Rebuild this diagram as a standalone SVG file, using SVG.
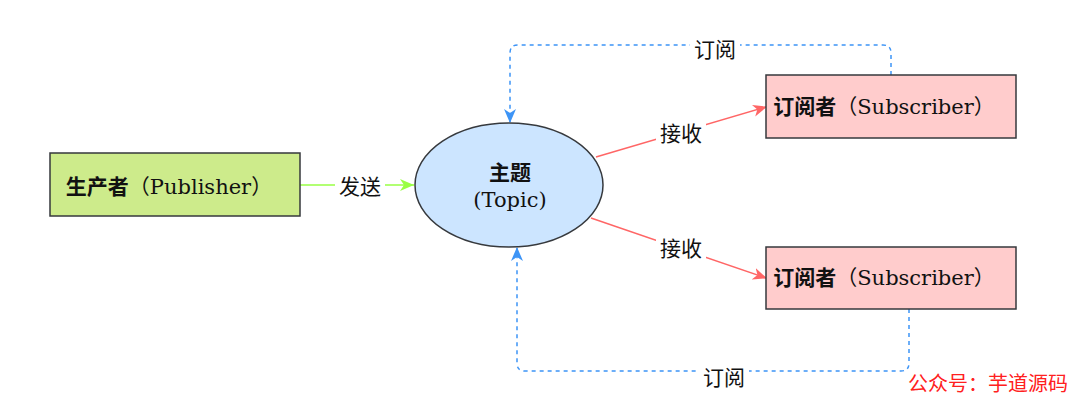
<svg xmlns="http://www.w3.org/2000/svg" width="1080" height="405" viewBox="0 0 1080 405">
<style>
.t{font-family:"DejaVu Serif","Noto Sans CJK SC",serif;font-size:21px;fill:#111;text-anchor:middle}
.b{font-weight:bold}
.box{stroke:#36393d;stroke-width:1.5}
.lbg{fill:#fff}
.dash{fill:none;stroke:#3d94f6;stroke-width:1.5;stroke-dasharray:4 4}
</style>
<defs>
<marker id="ar" viewBox="0 0 14 14" refX="13" refY="7" markerWidth="14" markerHeight="14" markerUnits="userSpaceOnUse" orient="auto"><path d="M0,1 L14,7 L0,13 L4,7 z" fill="#ff6666"/></marker>
<marker id="ab" viewBox="0 0 14 14" refX="13" refY="7" markerWidth="14" markerHeight="14" markerUnits="userSpaceOnUse" orient="auto"><path d="M0,1 L14,7 L0,13 L4,7 z" fill="#3d94f6"/></marker>
</defs>
<rect width="1080" height="405" fill="#fff"/>
<g id="connectors">
<path d="M300,185 H414" stroke="#99ff44" stroke-width="1.5" fill="none"/>
<polygon points="414,185 400,179 404,185 400,191" fill="#99ff44"/>
<line x1="596" y1="157" x2="766" y2="107" stroke="#ff6666" stroke-width="1.5" marker-end="url(#ar)"/>
<line x1="591" y1="218" x2="766" y2="278" stroke="#ff6666" stroke-width="1.5" marker-end="url(#ar)"/>
<path class="dash" d="M891,75 V53 Q891,45 883,45 H518 Q510,45 510,53 V122" marker-end="url(#ab)"/>
<path class="dash" d="M909,309 V363 Q909,371 901,371 H525 Q517,371 517,363 V248" marker-end="url(#ab)"/>
<rect class="lbg" x="335" y="173" width="50" height="26"/>
<text class="t" x="360" y="194">发送</text>
<rect class="lbg" x="656" y="120" width="50" height="26"/>
<text class="t" x="681" y="141">接收</text>
<rect class="lbg" x="656" y="235" width="50" height="26"/>
<text class="t" x="681" y="256">接收</text>
<rect class="lbg" x="690" y="37" width="50" height="26"/>
<text class="t" x="715" y="57">订阅</text>
<rect class="lbg" x="699" y="364" width="50" height="26"/>
<text class="t" x="724" y="385">订阅</text>
</g>
<g id="publisher">
<rect class="box" x="50" y="153" width="250" height="63" fill="#cdeb8b"/>
<text class="t" x="169" y="194"><tspan class="b">生产者</tspan>（Publisher）</text>
</g>
<g id="topic">
<ellipse class="box" cx="509" cy="185" rx="94" ry="62" fill="#cce5ff"/>
<text class="t b" x="510" y="180">主题</text>
<text class="t" x="510" y="207">(Topic)</text>
</g>
<g id="subscriber1">
<rect class="box" x="766" y="75" width="250" height="63" fill="#ffcccc"/>
<text class="t" x="884" y="114"><tspan class="b">订阅者</tspan>（Subscriber）</text>
</g>
<g id="subscriber2">
<rect class="box" x="766" y="247" width="250" height="62" fill="#ffcccc"/>
<text class="t" x="884" y="285"><tspan class="b">订阅者</tspan>（Subscriber）</text>
</g>
<text x="1068" y="391" style="font-family:'Noto Sans CJK SC',sans-serif;font-size:20px;fill:#ff2020;text-anchor:end">公众号：芋道源码</text>
</svg>
